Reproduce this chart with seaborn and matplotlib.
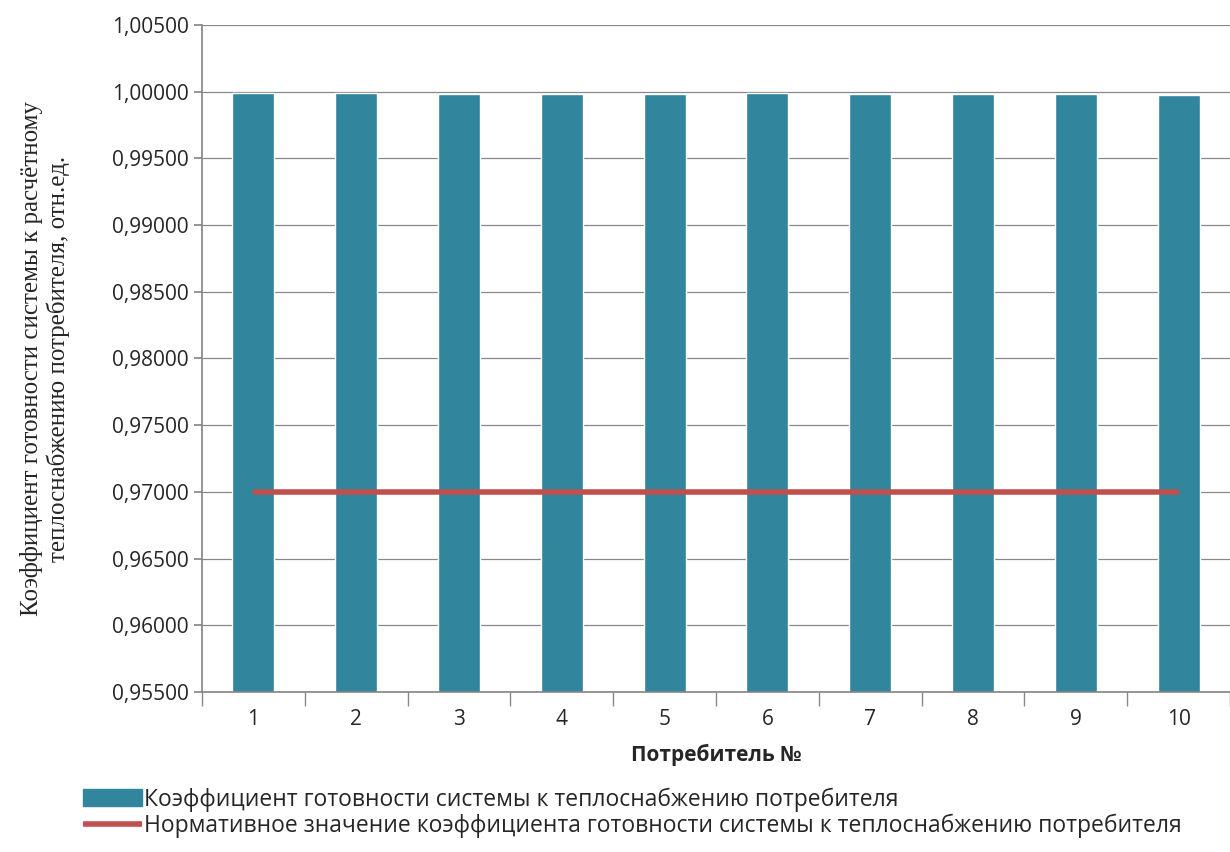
import matplotlib
matplotlib.use("Agg")
import matplotlib.pyplot as plt
import numpy as np
import pandas as pd
import seaborn as sns

consumers = ["1", "2", "3", "4", "5", "6", "7", "8", "9", "10"]
readiness = [0.99990, 0.99988, 0.99985, 0.99985, 0.99985, 0.99992, 0.99985, 0.99982, 0.99982, 0.99978]
norm_value = [0.97] * 10
y_ticks = np.arange(0.955, 1.00501, 0.005)

sns.set_theme(style="white")
plt.rcParams["font.family"] = ["Open Sans", "DejaVu Sans"]

df = pd.DataFrame({"consumer": consumers, "k": readiness})

fig = plt.figure(figsize=(12.3, 8.52), dpi=100)
ax = fig.add_axes([202 / 1230, 1 - 692 / 852, 1 - 202 / 1230, 667 / 852])

sns.barplot(data=df, x="consumer", y="k", color="#31859C", saturation=1, width=0.41, ax=ax)
line, = ax.plot(range(len(consumers)), norm_value, color="#C0504D", lw=4, solid_capstyle="butt")

ax.set_ylim(0.955, 1.005)
ax.set_xlim(-0.5, len(consumers) - 0.5)
ax.set_yticks(y_ticks)
ax.set_yticklabels([f"{v:.5f}".replace(".", ",") for v in y_ticks], fontsize=15)
ax.tick_params(axis="x", labelsize=15, length=0, pad=12)
ax.tick_params(axis="y", length=6, color="#888888", left=True)
ax.set_xticks(np.arange(-0.5, len(consumers)), minor=True)
ax.tick_params(axis="x", which="minor", length=10, color="#888888", bottom=True)
ax.yaxis.grid(True, color="#888888", lw=0.9)
ax.set_axisbelow(True)
for s in ["top", "right"]:
    ax.spines[s].set_visible(False)
for s in ["left", "bottom"]:
    ax.spines[s].set_color("#888888")

ax.set_xlabel("Потребитель №", fontsize=15, fontweight="bold", labelpad=10)
ax.set_ylabel("Коэффициент готовности системы к расчётному\nтеплоснабжению потребителя, отн.ед.",
              fontsize=18, family=["Liberation Serif"], labelpad=30)

bar_handle = plt.Rectangle((0, 0), 1, 1, color="#31859C")
fig.legend([bar_handle, line],
           ["Коэффициент готовности системы к теплоснабжению потребителя",
            "Нормативное значение коэффициента готовности системы к теплоснабжению потребителя"],
           loc="lower left", bbox_to_anchor=(62 / 1230, -0.008),
           frameon=False, fontsize=16.5, handlelength=2.6, handleheight=0.8,
           handletextpad=0.1, labelspacing=0.1)

fig.savefig("out.png", dpi=100)
